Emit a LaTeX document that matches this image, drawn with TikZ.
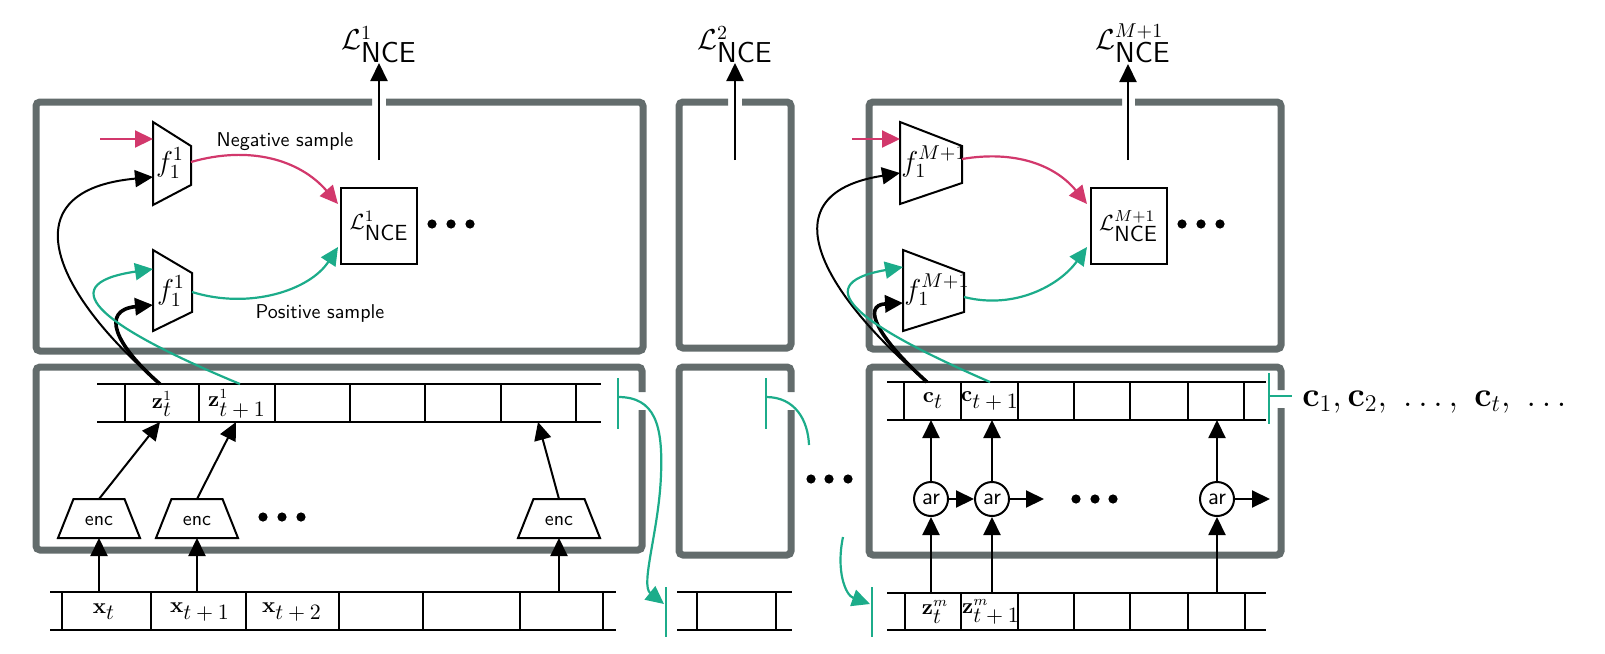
\documentclass[tikz,border=0pt]{standalone}
\usetikzlibrary{arrows.meta}
\definecolor{framegray}{RGB}{99,108,108}
\definecolor{tealc}{RGB}{28,172,138}
\definecolor{magc}{RGB}{210,56,108}
\newcommand{\tsub}[1]{_{\textstyle #1}}
\begin{document}
\begin{tikzpicture}[x=0.5pt,y=-0.5pt,
  frame/.style={draw=framegray,line width=3.5pt,rounded corners=2pt},
  tapeline/.style={line width=1pt},
  shapeline/.style={draw,line width=1pt,fill=white,line join=miter},
  arr/.style={-{Triangle[length=9pt,width=8.5pt]},line width=1pt},
  thickarr/.style={-{Triangle[length=9pt,width=8.5pt]},line width=1.8pt},
  tarr/.style={-{Triangle[length=9pt,width=8.5pt]},line width=1.1pt,draw=tealc},
  marr/.style={-{Triangle[length=9pt,width=8.5pt]},line width=1.1pt,draw=magc},
  tline/.style={draw=tealc,line width=1.1pt},
  lbl/.style={inner sep=0pt,font=\sffamily},
  cell/.style={inner sep=0pt,font=\fontsize{10.5}{12}\selectfont},
  flbl/.style={inner sep=0pt,font=\fontsize{14}{16}\selectfont},
  lossbox/.style={draw,line width=1pt,minimum size=38pt,inner sep=0pt,font=\fontsize{11}{13}\selectfont},
  arnode/.style={draw,circle,line width=1pt,minimum size=17pt,inner sep=0pt,font=\sffamily\fontsize{11.5}{13}\selectfont},
  bigdot/.style={fill=black,circle,inner sep=0pt,minimum size=4.6pt}
]
\useasboundingbox (0,0) rectangle (1605,653);

% ---------------- frames ----------------
\draw[frame] (386,102) -- (643,102) -- (643,351) -- (36,351) -- (36,102) -- (372,102);
\draw[frame] (642,410) -- (642,550) -- (36,550) -- (36,367) -- (642,367) -- (642,392);
\draw[frame] (742,102) -- (791,102) -- (791,348) -- (679,348) -- (679,102) -- (728,102);
\draw[frame] (791,410) -- (791,555) -- (679,555) -- (679,367) -- (791,367) -- (791,392);
\draw[frame] (1135,102) -- (1281,102) -- (1281,349) -- (869,349) -- (869,102) -- (1122,102);
\draw[frame] (1281,408) -- (1281,555) -- (869,555) -- (869,367) -- (1281,367) -- (1281,390);

% ---------------- loss outputs ----------------
\node[lbl,anchor=south,font=\Large] (top1) at (379,63) {$\mathcal{L}^{1}\tsub{\mathsf{NCE}}$};
\node[lbl,anchor=south,font=\Large] (top2) at (735,63) {$\mathcal{L}^{2}\tsub{\mathsf{NCE}}$};
\node[lbl,anchor=south,font=\Large] (top3) at (1133,63) {$\mathcal{L}^{M+1}\tsub{\mathsf{NCE}}$};
\coordinate (o1) at (379,160);
\coordinate (o2) at (735,160);
\coordinate (o3) at (1128,160);
\coordinate (o3e) at (1128,64);
\draw[arr] (o1) -- (top1.south);
\draw[arr] (o2) -- (top2.south);
\draw[arr] (o3) -- (o3e);

\node[lossbox] (L1) at (379,226) {$\mathcal{L}^{1}\tsub{\mathsf{NCE}}$};
\node[lossbox] (L3) at (1128.5,226) {$\mathcal{L}^{M+1}\tsub{\mathsf{NCE}}$};
\foreach \x [count=\i] in {432,451,470} \node[bigdot] (da\i) at (\x,224) {};
\foreach \x [count=\i] in {1182,1201,1220} \node[bigdot] (db\i) at (\x,224) {};

% ---------------- f heads, left ----------------
\draw[shapeline] (153,122) -- (191,146) -- (191,185) -- (153,205) -- cycle;
\draw[shapeline] (153,250) -- (192,273) -- (192,312) -- (153,331) -- cycle;
\node[flbl] (fa) at (170,163) {$f^1_1$};
\node[flbl] (fb) at (171,291) {$f^1_1$};
% ---------------- f heads, right ----------------
\draw[shapeline] (900,122) -- (962,146) -- (962,183) -- (900,204) -- cycle;
\draw[shapeline] (903,250) -- (964,273) -- (964,312) -- (903,331) -- cycle;
\node[flbl,anchor=west] (fc) at (901,162) {$f^{M+1}_1$};
\node[flbl,anchor=west] (fd) at (904,290) {$f^{M+1}_1$};

% connector end points
\coordinate (negA) at (100,139);  \coordinate (faNeg) at (153,139);
\coordinate (faIn) at (153,177);  \coordinate (faOut) at (191,162);
\coordinate (fbTeal) at (153,269); \coordinate (fbIn) at (153,305); \coordinate (fbOut) at (192,292);
\coordinate (L1neg) at (338,204); \coordinate (L1pos) at (338,247);
\coordinate (negB) at (852,139);  \coordinate (fcNeg) at (900,139);
\coordinate (fcIn) at (900,173);  \coordinate (fcOut) at (962,159);
\coordinate (fdTeal) at (903,267); \coordinate (fdIn) at (903,303); \coordinate (fdOut) at (964,297);
\coordinate (L3neg) at (1087,204); \coordinate (L3pos) at (1087,247);

\node[lbl] (neg) at (285,142) {Negative sample};
\node[lbl] (pos) at (320,313) {Positive sample};

\draw[marr] (negA) -- (faNeg);
\draw[marr] (negB) -- (fcNeg);
\draw[marr] (faOut) .. controls (250,145) and (300,160) .. (L1neg);
\draw[tarr] (fbOut) .. controls (250,310) and (310,290) .. (L1pos);
\draw[marr] (fcOut) .. controls (1015,150) and (1055,165) .. (L3neg);
\draw[tarr] (fdOut) .. controls (1015,310) and (1060,285) .. (L3pos);

% ---------------- left encoder module ----------------
\draw[tapeline] (97,384) -- (601,384) (97,422) -- (601,422);
\foreach \x in {125,199,275,350,425,501,576} \draw[tapeline] (\x,384) -- (\x,422);
\node[cell] (zt) at (162,404) {$\mathbf{z}^1\tsub{t}$};
\node[cell] (ztt) at (237,404) {$\mathbf{z}^1\tsub{t+1}$};
\coordinate (ztTop) at (160,384); \coordinate (zttTop) at (240,384);
\coordinate (ztBot) at (160,422); \coordinate (zttBot) at (236,422); \coordinate (zlBot) at (538,422);

\foreach \c/\n in {99/1,197/2,559/3}{
  \draw[shapeline] (\c-41,538) -- (\c-25.5,499) -- (\c+25.5,499) -- (\c+41,538) -- cycle;
  \node[lbl] (enc\n) at (\c,521) {enc};
  \coordinate (enc\n t) at (\c,499);
  \coordinate (enc\n b) at (\c,538);
  \coordinate (x\n top) at (\c,592);
}
\foreach \x [count=\i] in {263,282,301} \node[bigdot] (dc\i) at (\x,517) {};
\draw[arr] (enc1t) -- (ztBot);
\draw[arr] (enc2t) -- (zttBot);
\draw[arr] (enc3t) -- (zlBot);
\draw[arr] (x1top) -- (enc1b);
\draw[arr] (x2top) -- (enc2b);
\draw[arr] (x3top) -- (enc3b);

% input tape
\draw[tapeline] (50,592) -- (616,592) (50,630) -- (616,630);
\foreach \x in {62,151,246,339,423,520,603} \draw[tapeline] (\x,592) -- (\x,630);
\node[cell] (xt) at (104,612) {$\mathbf{x}\tsub{t}$};
\node[cell] (xt1) at (200,612) {$\mathbf{x}\tsub{t+1}$};
\node[cell] (xt2) at (292,612) {$\mathbf{x}\tsub{t+2}$};

% black/teal curves, left
\draw[arr] (ztTop) .. controls (50,290) and (10,190) .. (faIn);
\draw[thickarr] (ztTop) .. controls (115,345) and (100,310) .. (fbIn);
\draw[tarr] (zttTop) .. controls (110,330) and (45,285) .. (fbTeal);

% ---------------- middle ----------------
\draw[tapeline] (677,592) -- (792,592) (677,630) -- (792,630);
\foreach \x in {697,776} \draw[tapeline] (\x,592) -- (\x,630);
\foreach \x [count=\i] in {811,829,848} \node[bigdot] (dd\i) at (\x,479) {};

% teal hand-over marks
\coordinate (m1a) at (618,378); \coordinate (m1b) at (618,429); \coordinate (m1c) at (618,397);
\coordinate (m2a) at (666,587); \coordinate (m2b) at (666,637); \coordinate (m2c) at (664,604);
\coordinate (m3a) at (766,378); \coordinate (m3b) at (766,429); \coordinate (m3c) at (766,397);
\coordinate (m3e) at (809,445);
\coordinate (m4s) at (843,537);
\coordinate (m4a) at (872,587); \coordinate (m4b) at (872,637); \coordinate (m4c) at (870,604);
\coordinate (m5a) at (1269,373); \coordinate (m5b) at (1269,424); \coordinate (m5c) at (1269,396);
\coordinate (m5e) at (1292,396);
\draw[tline] (m1a) -- (m1b);
\draw[tline] (m2a) -- (m2b);
\draw[tline] (m3a) -- (m3b);
\draw[tline] (m4a) -- (m4b);
\draw[tline] (m5a) -- (m5b);
\draw[tline] (m5c) -- (m5e);
\draw[tarr] (m1c) .. controls (655,397) and (663,425) .. (661,475) .. controls (659,530) and (640,585) .. (m2c);
\draw[tline] (m3c) .. controls (795,397) and (808,420) .. (m3e);
\draw[tarr] (m4s) .. controls (836,570) and (845,595) .. (m4c);

% ---------------- right context module ----------------
\draw[tapeline] (887,382) -- (1266,382) (887,420) -- (1266,420);
\foreach \x in {904,961,1018,1074,1130,1188,1244} \draw[tapeline] (\x,382) -- (\x,420);
\node[cell] (ct) at (933,401) {$\mathbf{c}\tsub{t}$};
\node[cell] (ct1) at (990,401) {$\mathbf{c}\tsub{t+1}$};
\coordinate (ctTop) at (927,382); \coordinate (ct1Top) at (990,382);

\draw[tapeline] (887,593) -- (1266,593) (887,630) -- (1266,630);
\foreach \x in {905,961,1018,1074,1130,1188,1245} \draw[tapeline] (\x,593) -- (\x,630);
\node[cell] (zm) at (935,612) {$\mathbf{z}^m\tsub{t}$};
\node[cell] (zm1) at (991,612) {$\mathbf{z}^m\tsub{t+1}$};

\node[arnode] (ar1) at (931,499) {ar};
\node[arnode] (ar2) at (992,499) {ar};
\node[arnode] (ar3) at (1217,499) {ar};
\coordinate (ar2o) at (1044,499);
\coordinate (ar3o) at (1270,499);
\coordinate (c1b) at (931,420); \coordinate (c2b) at (992,420); \coordinate (c3b) at (1217,420);
\coordinate (z1t) at (931,593); \coordinate (z2t) at (992,593); \coordinate (z3t) at (1217,593);
\draw[arr] (ar1) -- (ar2);
\draw[arr] (ar2) -- (ar2o);
\draw[arr] (ar3) -- (ar3o);
\draw[arr] (ar1) -- (c1b);
\draw[arr] (ar2) -- (c2b);
\draw[arr] (ar3) -- (c3b);
\draw[arr] (z1t) -- (ar1);
\draw[arr] (z2t) -- (ar2);
\draw[arr] (z3t) -- (ar3);
\foreach \x [count=\i] in {1076,1095,1113} \node[bigdot] (de\i) at (\x,499) {};

\draw[arr] (ctTop) .. controls (830,300) and (760,195) .. (fcIn);
\draw[thickarr] (ctTop) .. controls (880,340) and (860,305) .. (fdIn);
\draw[tarr] (ct1Top) .. controls (870,330) and (800,285) .. (fdTeal);

\node[lbl,anchor=west,font=\LARGE] (cseq) at (1302,402) {$\mathbf{c}_1, \mathbf{c}_2,\ \ldots,\ \mathbf{c}_t,\ \ldots$};
\end{tikzpicture}
\end{document}
